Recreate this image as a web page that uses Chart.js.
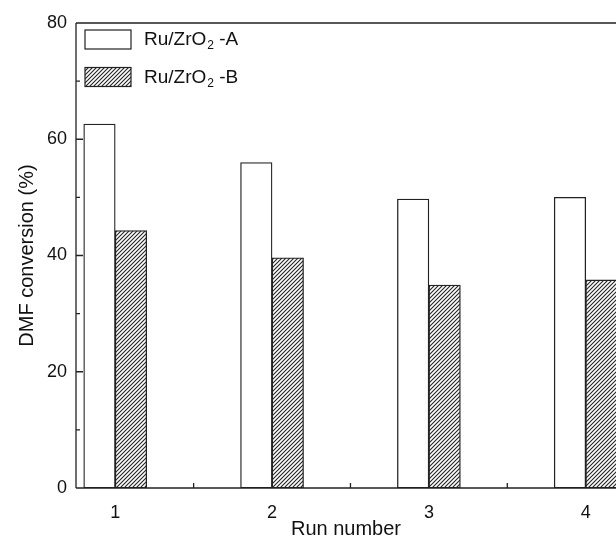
<!DOCTYPE html>
<html>
<head>
<meta charset="utf-8">
<script src="https://cdn.jsdelivr.net/npm/chart.js@4.4.1/dist/chart.umd.min.js"></script>
<style>
html,body{margin:0;padding:0;background:#fff;overflow:hidden}
</style>
</head>
<body>
<canvas id="c" width="616" height="541"></canvas>
<script>
// data
const runs = [1, 2, 3, 4];
const convA = [62.6, 56.0, 49.7, 50.0];
const convB = [44.3, 39.6, 34.9, 35.8];
const legendNames = [['Ru/ZrO', '2', ' -A'], ['Ru/ZrO', '2', ' -B']];
const yTicks = [0, 20, 40, 60, 80];
const yMinor = [10, 30, 50, 70];
const xMinor = [1.5, 2.5, 3.5];

const INK = '#222';
const FONT = '"Liberation Sans", Arial, sans-serif';

function hatch(){
const s = 4;
const c = document.createElement('canvas');
c.width = s; c.height = s;
const g = c.getContext('2d');
g.fillStyle = '#fff';
g.fillRect(0,0,s,s);
g.strokeStyle = INK;
g.lineWidth = 1.1;
g.beginPath();
g.moveTo(0,s); g.lineTo(s,0);
g.moveTo(-1,1); g.lineTo(1,-1);
g.moveTo(s-1,s+1); g.lineTo(s+1,s-1);
g.stroke();
return g.createPattern(c,'repeat');
}
const hatchFill = hatch();

const frameAndTicks = {
id:'frameAndTicks',
afterDatasetsDraw(chart){
const {ctx, chartArea:a, scales:{x,y}} = chart;
ctx.save();
ctx.strokeStyle = INK;
ctx.lineWidth = 1.3;
ctx.beginPath();
ctx.moveTo(a.left, a.top); ctx.lineTo(a.right, a.top);
ctx.moveTo(a.left, a.top); ctx.lineTo(a.left, a.bottom);
ctx.moveTo(a.left, a.bottom); ctx.lineTo(a.right, a.bottom);
yTicks.forEach(v=>{ const p = y.getPixelForValue(v); ctx.moveTo(a.left,p); ctx.lineTo(a.left+7,p); });
yMinor.forEach(v=>{ const p = y.getPixelForValue(v); ctx.moveTo(a.left,p); ctx.lineTo(a.left+4,p); });
xMinor.forEach(v=>{ const p = x.getPixelForValue(v); ctx.moveTo(p,a.bottom); ctx.lineTo(p,a.bottom-5); });
ctx.stroke();
ctx.restore();
}
};

const boxLegend = {
id:'boxLegend',
afterDraw(chart){
const {ctx} = chart;
const fills = chart.data.datasets.map(d=>d.backgroundColor);
ctx.save();
legendNames.forEach((parts,i)=>{
const top = 30 + i*37.5;
ctx.fillStyle = fills[i];
ctx.fillRect(85, top, 46, 19);
ctx.strokeStyle = INK; ctx.lineWidth = 1.2;
ctx.strokeRect(85, top, 46, 19);
const cy = top + 10;
ctx.fillStyle = '#111';
ctx.textBaseline = 'middle';
ctx.font = '19px ' + FONT;
let tx = 144;
ctx.fillText(parts[0], tx, cy);
tx += ctx.measureText(parts[0]).width + 1;
ctx.font = '12px ' + FONT;
ctx.fillText(parts[1], tx, cy + 6);
tx += ctx.measureText(parts[1]).width;
ctx.font = '19px ' + FONT;
ctx.fillText(parts[2], tx, cy);
});
ctx.restore();
}
};

new Chart(document.getElementById('c'), {
type:'bar',
data:{
datasets:[
{ label:'Ru/ZrO2 -A', data: runs.map((r,i)=>({x:r, y:convA[i]})), backgroundColor:'#fff', borderColor:INK, borderWidth:1.3, borderSkipped:false },
{ label:'Ru/ZrO2 -B', data: runs.map((r,i)=>({x:r, y:convB[i]})), backgroundColor:hatchFill, borderColor:INK, borderWidth:1.3, borderSkipped:false }
]
},
options:{
responsive:false,
animation:false,
layout:{ padding:{ top:23, right:0, left:0, bottom:0 } },
datasets:{ bar:{ barThickness:31.5 } },
plugins:{ legend:{ display:false }, tooltip:{ enabled:false } },
scales:{
x:{
type:'linear', min:0.75, max:4.193, offset:false,
grid:{ display:false, drawTicks:false, offset:false },
border:{ display:false },
ticks:{ stepSize:1, includeBounds:false, padding:14, color:'#111', font:{ family:FONT, size:18 },
callback:v=> Number.isInteger(v) ? String(v) : '' },
title:{ display:true, text:'Run number', color:'#111', font:{ family:FONT, size:20 }, padding:{ top:0, bottom:0 } },
afterFit(s){ s.height = 53; }
},
y:{
min:0, max:80,
grid:{ display:false, drawTicks:false },
border:{ display:false },
ticks:{ stepSize:20, padding:9, color:'#111', font:{ family:FONT, size:18 } },
title:{ display:true, text:'DMF conversion (%)', color:'#111', font:{ family:FONT, size:20 }, padding:{ top:15, bottom:0 } },
afterFit(s){ s.width = 76; }
}
}
},
plugins:[frameAndTicks, boxLegend]
});
</script>
</body>
</html>
